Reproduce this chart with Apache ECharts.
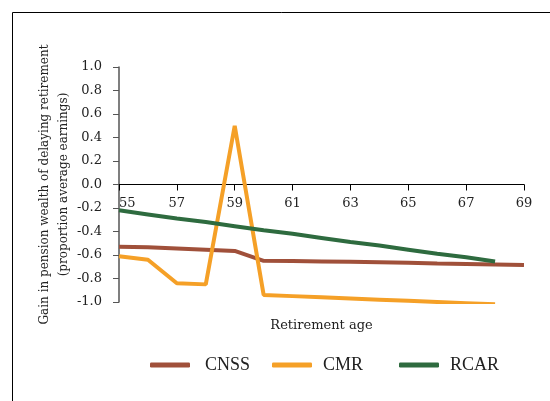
<!DOCTYPE html>
<html><head><meta charset="utf-8">
<script src="https://cdn.jsdelivr.net/npm/echarts@6/dist/echarts.min.js"></script>
<style>html,body{margin:0;padding:0;background:#fff}#c{width:550px;height:401px}</style>
</head><body><div id="c"></div>
<script>
const ages = [55,56,57,58,59,60,61,62,63,64,65,66,67,68,69];
const cnss = [-0.53,-0.535,-0.545,-0.555,-0.565,-0.65,-0.652,-0.655,-0.658,-0.662,-0.667,-0.672,-0.676,-0.68,-0.685];
const cmr  = [-0.61,-0.64,-0.84,-0.85,0.5,-0.94,-0.95,-0.96,-0.97,-0.98,-0.99,-1.0,-1.01,-1.02];
const rcar = [-0.22,-0.255,-0.29,-0.32,-0.355,-0.39,-0.42,-0.455,-0.49,-0.52,-0.555,-0.59,-0.62,-0.655];
const seriesNames = ['CNSS','CMR','RCAR'];
const yTitle = 'Gain in pension wealth of delaying retirement\n(proportion average earnings)';
const xTitle = 'Retirement age';

const pairs = v => v.map((y,i)=>[ages[i], y]);
const font = 'DejaVu Serif';
const legFont = 'Liberation Serif';
const legendLefts = [145, 267, 394];
const legendPads = [15, 11, 11];
const chart = echarts.init(document.getElementById('c'));
chart.setOption({
  animation:false,
  textStyle:{fontFamily:font},
  graphic:[
    {type:'rect',shape:{x:12.5,y:12.5,width:600,height:500},style:{fill:'none',stroke:'#000',lineWidth:1}},
    {type:'text',x:54,y:184.5,rotation:Math.PI/2,
     style:{text:yTitle,fontFamily:font,fontSize:12,fill:'#222',lineHeight:19,align:'center',verticalAlign:'middle'}}
  ],
  grid:{left:119,right:26,top:67,bottom:99},
  legend: seriesNames.map((n,i)=>({
    left:legendLefts[i], top:351, itemWidth:40, itemHeight:5,
    icon:'roundRect',
    textStyle:{fontFamily:legFont,fontSize:18,color:'#222',padding:[0,0,0,legendPads[i]-5]},
    data:[n]
  })),
  xAxis:[{
    type:'value', min:55, max:69, interval:2,
    position:'bottom', offset:-117.5,
    axisLine:{onZero:false,lineStyle:{color:'#000',width:1}},
    axisTick:{inside:false,length:6,lineStyle:{color:'#000'}},
    axisLabel:{fontFamily:font,fontSize:13,color:'#222',margin:13,alignMinLabel:'left'},
    splitLine:{show:false}
  },{
    type:'value', min:55, max:69, interval:2, position:'bottom',
    name:xTitle, nameLocation:'middle', nameGap:17,
    nameTextStyle:{fontFamily:font,fontSize:13,color:'#222'},
    axisLine:{show:false}, axisTick:{show:false}, axisLabel:{show:false}, splitLine:{show:false}
  }],
  yAxis:{
    type:'value', min:-1, max:1, interval:0.2,
    axisLine:{show:true,onZero:false,lineStyle:{color:'#555',width:1.5}},
    axisTick:{show:true,length:6,lineStyle:{color:'#555'}},
    axisLabel:{fontFamily:font,fontSize:13,color:'#222',margin:17,formatter:v=>v.toFixed(1)},
    splitLine:{show:false}
  },
  series:[
    {name:'CNSS',type:'line',data:pairs(cnss),showSymbol:false,color:'#A0503A',lineStyle:{width:4}},
    {name:'CMR',type:'line',data:pairs(cmr),showSymbol:false,color:'#F5A027',lineStyle:{width:4}},
    {name:'RCAR',type:'line',data:pairs(rcar),showSymbol:false,color:'#2E6B3F',lineStyle:{width:4}}
  ]
});
</script></body></html>
